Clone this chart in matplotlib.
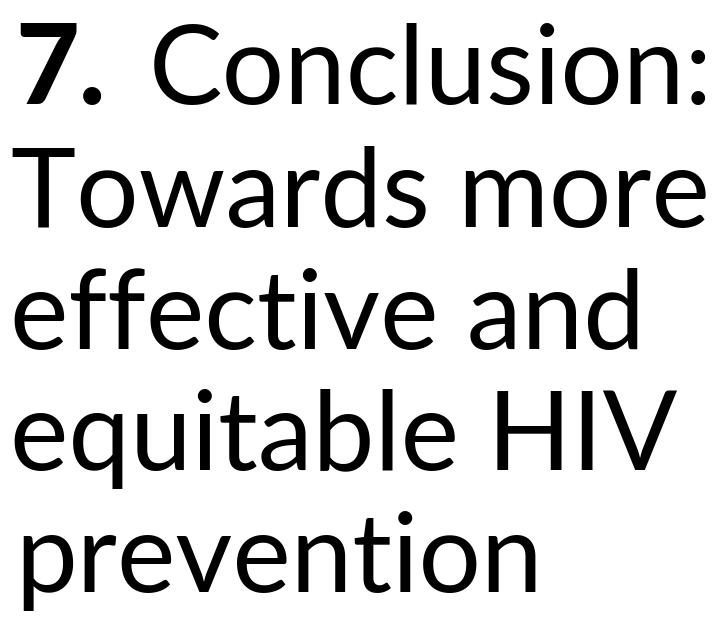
import matplotlib
matplotlib.use("Agg")
import matplotlib.pyplot as plt
from matplotlib.textpath import TextPath
from matplotlib.font_manager import FontProperties

# text content
number = "7."
lines = ["Conclusion:", "Towards more", "effective and", "equitable HIV", "prevention"]
# baselines and left ink edges (pixels from top-left)
baselines_px = [104, 227, 349, 470, 592]
left_px = [154, 13, 15, 15, 23]
number_left = 20

W, H = 714, 621
fig = plt.figure(figsize=(W / 100, H / 100), dpi=100)
fig.patch.set_facecolor("white")
fs = 79.5
size_px = fs * 100 / 72
family = "Lato"


def fy(px):
    return 1 - px / H


def ink_x0(s, weight="normal"):
    fp = FontProperties(family=family, weight=weight)
    return TextPath((0, 0), s, size=size_px, prop=fp).get_extents().x0


fig.text((number_left - ink_x0(number, "black")) / W, fy(baselines_px[0]), number,
         fontsize=fs, fontweight="black", family=family,
         va="baseline", ha="left", color="black")
for txt, b, x in zip(lines, baselines_px, left_px):
    fig.text((x - ink_x0(txt)) / W, fy(b), txt, fontsize=fs, family=family,
             va="baseline", ha="left", color="black")

plt.savefig("out.png", dpi=100)
